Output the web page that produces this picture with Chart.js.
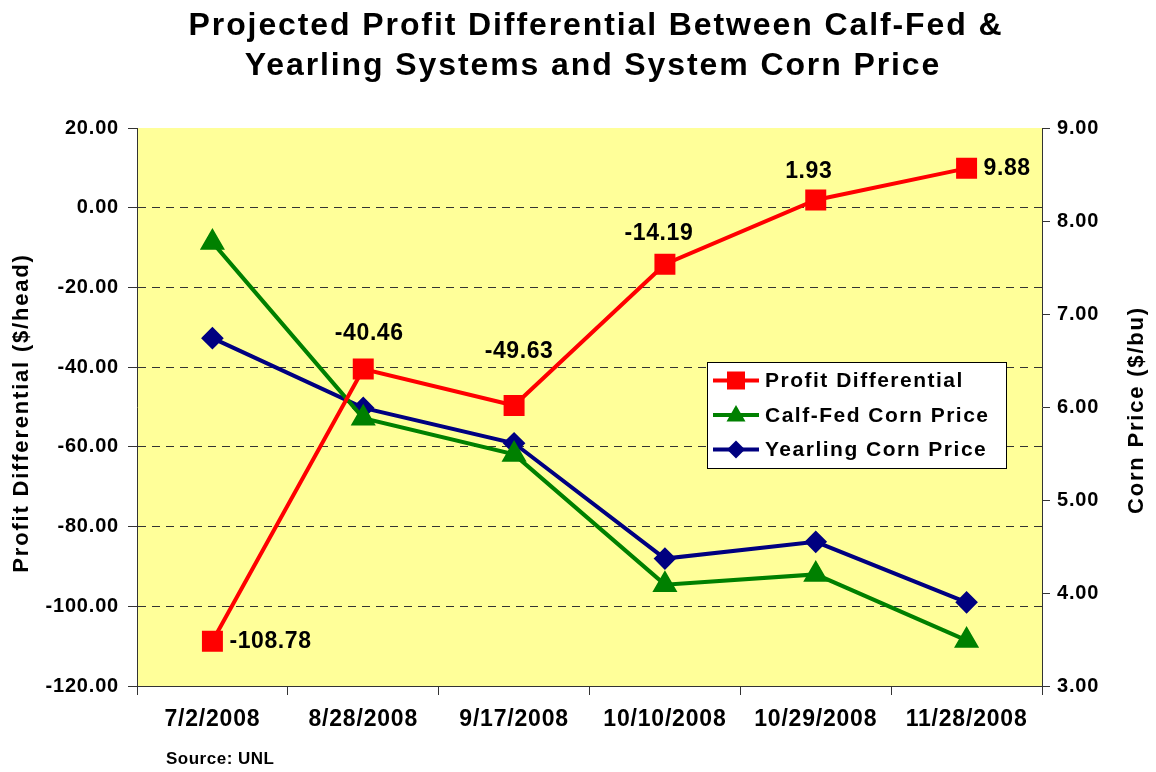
<!DOCTYPE html>
<html>
<head>
<meta charset="utf-8">
<script src="https://cdn.jsdelivr.net/npm/chart.js@4.4.0/dist/chart.umd.min.js"></script>
<style>
  html, body { margin: 0; padding: 0; background: #fff; }
  canvas { display: block; }
</style>
</head>
<body>
<canvas id="profit-chart" width="1156" height="772"></canvas>
<script>
const dates = ['7/2/2008', '8/28/2008', '9/17/2008', '10/10/2008', '10/29/2008', '11/28/2008'];
const profitDiff = [-108.78, -40.46, -49.63, -14.19, 1.93, 9.88];
const calfFedCorn = [7.77, 5.88, 5.49, 4.09, 4.20, 3.49];
const yearlingCorn = [6.74, 5.99, 5.61, 4.37, 4.55, 3.90];

// where each profit label sits next to its point: dx, dy, align
const labelOffsets = [[17, 0, 'left'], [6, -35, 'center'], [5, -54, 'center'], [-6, -31, 'center'], [-7, -28, 'center'], [17, 0, 'left']];

const FONT = '"Liberation Sans", Arial, sans-serif';

// excel-ish wide text: canvas letterSpacing, reset by every canvas resize so set it per pass
const spacing = {
  id: 'spacing',
  beforeUpdate(chart) { chart.ctx.letterSpacing = '0.8px'; },
  beforeDraw(chart) {
    const { ctx, chartArea: a } = chart;
    ctx.letterSpacing = '0.8px';
    ctx.save();
    ctx.fillStyle = '#FFFF99';
    ctx.fillRect(a.left, a.top, a.right - a.left, a.bottom - a.top);
    ctx.restore();
  }
};

const drawMarker = (ctx, style, x, y, color) => {
  ctx.fillStyle = color;
  ctx.beginPath();
  if (style === 'rect') {
    ctx.rect(x - 9, y - 9, 18, 18);
  } else if (style === 'triangle') {
    ctx.moveTo(x, y - 10);
    ctx.lineTo(x + 9.5, y + 6.5);
    ctx.lineTo(x - 9.5, y + 6.5);
    ctx.closePath();
  } else {
    ctx.moveTo(x, y - 9);
    ctx.lineTo(x + 9, y);
    ctx.lineTo(x, y + 9);
    ctx.lineTo(x - 9, y);
    ctx.closePath();
  }
  ctx.fill();
};

const extras = {
  id: 'extras',
  afterDraw(chart) {
    const { ctx, chartArea: a } = chart;
    ctx.save();
    ctx.fillStyle = '#000';

    // title
    ctx.letterSpacing = '1.9px';
    ctx.font = 'bold 32px ' + FONT;
    ctx.textAlign = 'center';
    ctx.textBaseline = 'alphabetic';
    ctx.fillText('Projected Profit Differential Between Calf-Fed &', 596, 35);
    ctx.fillText('Yearling Systems and System Corn Price', 593, 75);

    // axis titles
    ctx.letterSpacing = '1.8px';
    ctx.font = 'bold 22px ' + FONT;
    ctx.textBaseline = 'middle';
    ctx.save();
    ctx.translate(22, 413);
    ctx.rotate(-Math.PI / 2);
    ctx.fillText('Profit Differential ($/head)', 0, 0);
    ctx.restore();
    ctx.save();
    ctx.translate(1137, 410);
    ctx.rotate(-Math.PI / 2);
    ctx.fillText('Corn Price ($/bu)', 0, 0);
    ctx.restore();

    // source
    ctx.letterSpacing = '0.5px';
    ctx.font = 'bold 17px ' + FONT;
    ctx.textAlign = 'left';
    ctx.fillText('Source: UNL', 166, 759);

    // profit value labels
    const meta = chart.getDatasetMeta(0);
    ctx.letterSpacing = '0.6px';
    ctx.font = 'bold 23px ' + FONT;
    meta.data.forEach((pt, i) => {
      const o = labelOffsets[i];
      ctx.textAlign = o[2];
      ctx.fillText(profitDiff[i].toFixed(2), pt.x + o[0], pt.y + o[1]);
    });

    // legend
    const lx = a.left + 570, ly = a.top + 234;
    ctx.fillStyle = '#fff';
    ctx.fillRect(lx, ly, 299, 106);
    ctx.strokeStyle = '#000';
    ctx.lineWidth = 1;
    ctx.strokeRect(lx + 0.5, ly + 0.5, 299, 106);
    ctx.letterSpacing = '1.5px';
    ctx.font = 'bold 21px ' + FONT;
    ctx.textAlign = 'left';
    chart.data.datasets.forEach((ds, i) => {
      const y = ly + 18.5 + i * 34.5;
      ctx.strokeStyle = ds.borderColor;
      ctx.lineWidth = 4;
      ctx.beginPath();
      ctx.moveTo(lx + 6, y);
      ctx.lineTo(lx + 52, y);
      ctx.stroke();
      drawMarker(ctx, ds.pointStyle, lx + 29, y, ds.borderColor);
      ctx.fillStyle = '#000';
      ctx.fillText(ds.label, lx + 58, y + 1);
    });
    ctx.restore();
  }
};

const ctx = document.getElementById('profit-chart').getContext('2d');
const myChart = new Chart(ctx, {
  type: 'line',
  data: {
    labels: dates,
    datasets: [{
      label: 'Profit Differential',
      data: profitDiff,
      yAxisID: 'y',
      borderColor: '#FF0000',
      backgroundColor: '#FF0000',
      borderWidth: 4,
      pointStyle: 'rect',
      pointRadius: 12,
      tension: 0
    }, {
      label: 'Calf-Fed Corn Price',
      data: calfFedCorn,
      yAxisID: 'y1',
      borderColor: '#008000',
      backgroundColor: '#008000',
      borderWidth: 4,
      pointStyle: 'triangle',
      pointRadius: 10.5,
      tension: 0
    }, {
      label: 'Yearling Corn Price',
      data: yearlingCorn,
      yAxisID: 'y1',
      borderColor: '#000080',
      backgroundColor: '#000080',
      borderWidth: 4,
      pointStyle: 'rectRot',
      pointRadius: 8.5,
      tension: 0
    }]
  },
  options: {
    responsive: false,
    animation: false,
    layout: { padding: { top: 128, left: 0, right: 0, bottom: 0 } },
    plugins: {
      legend: { display: false },
      title: { display: false },
      tooltip: { enabled: false }
    },
    scales: {
      x: {
        offset: true,
        afterFit: (s) => { s.height = 86; },
        grid: { offset: true, drawOnChartArea: false, tickLength: 9, color: '#333' },
        border: { color: '#333', width: 1 },
        ticks: { color: '#000', font: { family: FONT, size: 23, weight: 'bold' }, padding: 11, maxRotation: 0, autoSkip: false }
      },
      y: {
        position: 'left',
        min: -120,
        max: 20,
        afterFit: (s) => { s.width = 137; },
        ticks: {
          stepSize: 20,
          color: '#000',
          padding: 9,
          font: { family: FONT, size: 20, weight: 'bold' },
          callback: (v) => v.toFixed(2)
        },
        grid: {
          color: (c) => (c.tick && (c.tick.value === 20 || c.tick.value === -120)) ? 'rgba(0,0,0,0)' : '#333',
          tickColor: '#333',
          tickLength: 9,
          lineWidth: 1
        },
        border: { color: '#333', width: 1, dash: [8, 6] }
      },
      y1: {
        position: 'right',
        min: 3,
        max: 9,
        afterFit: (s) => { s.width = 114; },
        ticks: {
          stepSize: 1,
          color: '#000',
          padding: 7,
          font: { family: FONT, size: 20, weight: 'bold' },
          callback: (v) => v.toFixed(2)
        },
        grid: { drawOnChartArea: false, tickLength: 8, color: '#333' },
        border: { color: '#333', width: 1 }
      }
    }
  },
  plugins: [spacing, extras]
});
</script>
</body>
</html>
